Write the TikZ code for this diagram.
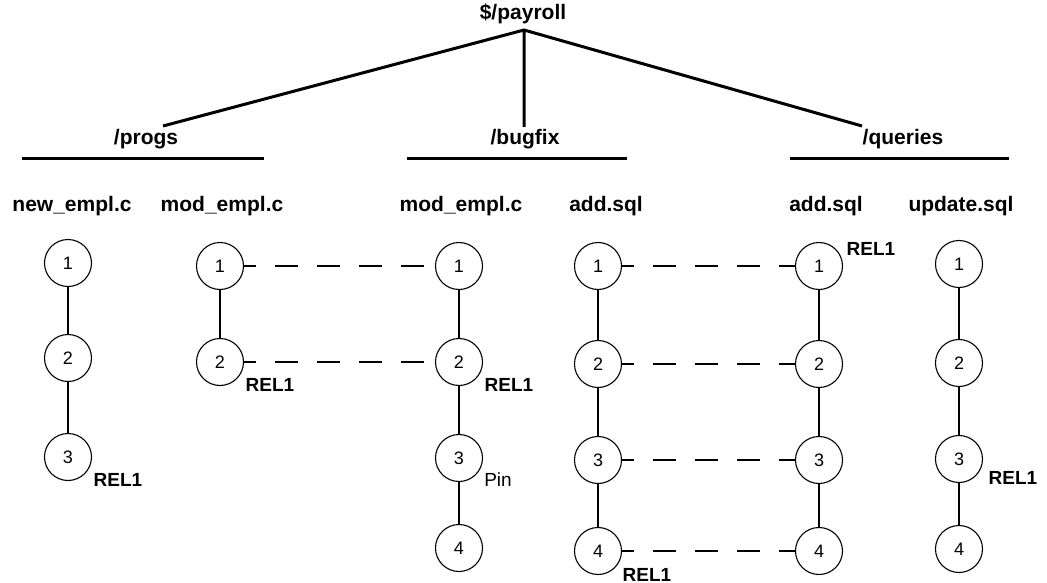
\documentclass[tikz,border=0pt]{standalone}
\usepackage{fontspec}
\setmainfont{Liberation Sans}
\usetikzlibrary{positioning}
\tikzset{
    ver/.style={circle, draw, line width=1.1pt, minimum size=47pt, inner sep=0pt,
        font=\fontsize{18}{20}\selectfont},
    dirname/.style={font=\bfseries\fontsize{21}{24}\selectfont, inner sep=0pt},
    tagname/.style={font=\bfseries\fontsize{19}{22}\selectfont, inner sep=0pt},
    branch/.style={line width=3pt},
    succ/.style={line width=1.1pt},
    merge/.style={line width=1.1pt, dash pattern=on 23pt off 19pt, dash phase=11pt},
}
\begin{document}
\begin{tikzpicture}[x=1pt, y=-1pt]
                \useasboundingbox (0,0) rectangle (1047,583);
                % tree of directories
                \node[dirname] (root) at (523,14) {\$/payroll};
                \coordinate (top) at (524,30);
                \coordinate (progstop) at (163,126);
                \coordinate (bugfixtop) at (524,127);
                \coordinate (queriestop) at (862,126);
                \draw[branch] (progstop) -- (top) -- (queriestop) (top) -- (bugfixtop);
                \node[dirname] (progs) at (146,139) {/progs};
                \node[dirname] (bugfix) at (525,139) {/bugfix};
                \node[dirname] (queries) at (903,139) {/queries};
                \draw[branch] (22,159) -- (264,159) (407,159) -- (627,159) (790,159) -- (1009,159);
                % files
                \node[dirname] (fa) at (72,206) {new\_empl.c};
                \node[dirname] (fb) at (222,206) {mod\_empl.c};
                \node[dirname] (fc) at (461,206) {mod\_empl.c};
                \node[dirname] (fd) at (606,206) {add.sql};
                \node[dirname] (fe) at (826,206) {add.sql};
                \node[dirname] (ff) at (961,206) {update.sql};
                % versions
                \foreach \n/\y in {1/263,2/358,3/457}
                    \node[ver] (a\n) at (68,\y) {\n};
                \foreach \n/\y in {1/266,2/362}
                    \node[ver] (b\n) at (220,\y) {\n};
                \foreach \n/\y in {1/266,2/362,3/458,4/548}
                    \node[ver] (c\n) at (459,\y) {\n};
                \foreach \n/\y in {1/266,2/364,3/460,4/551}
                    \node[ver] (d\n) at (598,\y) {\n};
                \foreach \n/\y in {1/266,2/364,3/460,4/551}
                    \node[ver] (e\n) at (819,\y) {\n};
                \foreach \n/\y in {1/264,2/363,3/459,4/549}
                    \node[ver] (f\n) at (959,\y) {\n};
                \draw[succ] (a1) -- (a2) -- (a3);
                \draw[succ] (b1) -- (b2);
                \draw[succ] (c1) -- (c2) -- (c3) -- (c4);
                \draw[succ] (d1) -- (d2) -- (d3) -- (d4);
                \draw[succ] (e1) -- (e2) -- (e3) -- (e4);
                \draw[succ] (f1) -- (f2) -- (f3) -- (f4);
                \draw[merge] (b1) -- (c1);
                \draw[merge] (b2) -- (c2);
                \foreach \n in {1,...,4}
                    \draw[merge] (d\n) -- (e\n);
                % labels
                \node[tagname] (ta) at (118,480) {REL1};
                \node[tagname] (tb) at (270,385) {REL1};
                \node[tagname] (tc) at (509,385) {REL1};
                \node[font=\fontsize{19}{22}\selectfont, inner sep=0pt] (pin) at (498,480) {Pin};
                \node[tagname, anchor=base] (td) at (647,581) {REL1};
                \node[tagname] (te) at (871,249) {REL1};
                \node[tagname] (tf) at (1013,478) {REL1};
            \end{tikzpicture}
\end{document}
